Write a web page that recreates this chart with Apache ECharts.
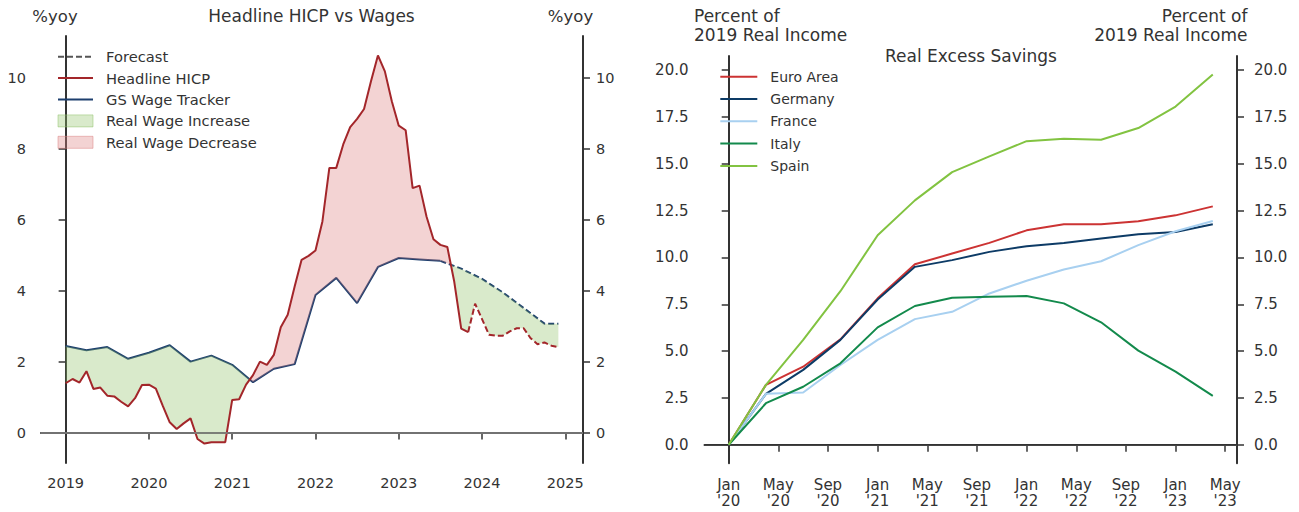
<!DOCTYPE html>
<html>
<head>
<meta charset="utf-8">
<script src="https://cdn.jsdelivr.net/npm/echarts@6/dist/echarts.min.js"></script>
<style>
html, body { margin: 0; padding: 0; background: #fff; }
#main { width: 1299px; height: 512px; }
</style>
</head>
<body>
<div id="main"></div>
<script>
// ---- left panel: headline HICP (monthly from Jan 2019) vs GS wage tracker ----
var startYear = 2019;
var hicp = [
  1.39, 1.51, 1.41, 1.73, 1.23, 1.27, 1.04, 1.02, 0.87, 0.74, 0.97, 1.34,
  1.35, 1.24, 0.75, 0.29, 0.10, 0.26, 0.40, -0.18, -0.31, -0.27, -0.27, -0.27,
  0.92, 0.94, 1.35, 1.62, 2.00, 1.91, 2.19, 2.97, 3.32, 4.12, 4.87, 4.98,
  5.13, 5.95, 7.46, 7.46, 8.12, 8.61, 8.84, 9.12, 9.90, 10.63, 10.18, 9.34,
  8.65, 8.52, 6.89, 6.96, 6.09, 5.45, 5.29, 5.23, 4.25, 2.93, 2.83, 3.63,
  3.20, 2.76, 2.73, 2.73, 2.85, 2.94, 2.94, 2.66, 2.49, 2.54, 2.45, 2.41
];
var hicpLastActual = 58; // Nov 2023, dashed after this

var wageMonths = [0, 3, 6, 9, 12, 15, 18, 21, 24, 27, 30, 33, 36, 39, 42, 45, 48, 51, 54];
var wageValues = [2.44, 2.32, 2.41, 2.08, 2.25, 2.46, 2.00, 2.17, 1.91, 1.42, 1.80, 1.93,
  3.88, 4.36, 3.65, 4.67, 4.92, 4.88, 4.84];
var wageFcMonths = [54, 57, 60, 63, 66, 69, 71];
var wageFcValues = [4.84, 4.62, 4.33, 3.95, 3.51, 3.07, 3.07];

var leftYears = [2019, 2020, 2021, 2022, 2023, 2024, 2025];
var leftYTicks = [0, 2, 4, 6, 8, 10];

// ---- right panel: real excess savings, quarterly, months since Jan 2020 ----
var savingsMonths = [0, 3, 6, 9, 12, 15, 18, 21, 24, 27, 30, 33, 36, 39];
var euroArea = [0, 3.20, 4.17, 5.63, 7.82, 9.64, 10.21, 10.78, 11.45, 11.77, 11.77, 11.93, 12.25, 12.73];
var germany = [0, 2.72, 4.00, 5.60, 7.76, 9.50, 9.86, 10.30, 10.60, 10.78, 11.01, 11.24, 11.36, 11.77];
var france = [0, 2.72, 2.79, 4.26, 5.60, 6.71, 7.10, 8.08, 8.76, 9.36, 9.80, 10.66, 11.40, 11.95];
var italy = [0, 2.22, 3.10, 4.35, 6.27, 7.41, 7.85, 7.90, 7.94, 7.55, 6.54, 5.03, 3.91, 2.61];
var spain = [0, 3.20, 5.60, 8.20, 11.19, 13.05, 14.56, 15.40, 16.21, 16.34, 16.29, 16.91, 18.06, 19.77];

var rightXTicks = [0, 4, 8, 12, 16, 20, 24, 28, 32, 36, 40];
var rightXLabels = ["Jan\n'20", "May\n'20", "Sep\n'20", "Jan\n'21", "May\n'21", "Sep\n'21",
  "Jan\n'22", "May\n'22", "Sep\n'22", "Jan\n'23", "May\n'23"];
var rightYTicks = [0, 2.5, 5, 7.5, 10, 12.5, 15, 17.5, 20];

var FONT = 'DejaVu Sans';
var TXT = '#333';
var GREEN_FILL = 'rgba(146,195,106,0.35)';
var RED_FILL = 'rgba(221,129,129,0.35)';
var HICP_COL = '#a3262a';
var WAGE_COL = '#1d3f6e';

function pairs(xs, ys) { return xs.map(function (x, i) { return [x, ys[i]]; }); }
function pad(lo, hi) { var p = (hi - lo) * 0.05; return [lo - p, hi + p]; }
function lerp(xs, ys, x) {
  for (var i = 1; i < xs.length; i++) {
    if (x <= xs[i]) {
      var t = (x - xs[i - 1]) / (xs[i] - xs[i - 1]);
      return ys[i - 1] + t * (ys[i] - ys[i - 1]);
    }
  }
  return ys[ys.length - 1];
}

var hicpMonths = hicp.map(function (v, i) { return i; });
var wageAllX = wageMonths.concat(wageFcMonths.slice(1));
var wageAllY = wageValues.concat(wageFcValues.slice(1));

// split the band between the two lines where they cross
var runs = [], cur = null, prev = null;
hicpMonths.forEach(function (m) {
  var p = { x: m, h: hicp[m], w: lerp(wageAllX, wageAllY, m) };
  if (prev) {
    var d0 = prev.h - prev.w, d1 = p.h - p.w;
    if (d0 * d1 < 0) {
      var t = d0 / (d0 - d1);
      var yc = prev.h + t * (p.h - prev.h);
      var c = { x: prev.x + t * (p.x - prev.x), h: yc, w: yc };
      cur.pts.push(c);
      runs.push(cur);
      cur = { up: d1 > 0, pts: [c] };
    }
  } else {
    cur = { up: p.h > p.w, pts: [] };
  }
  cur.pts.push(p);
  prev = p;
});
runs.push(cur);

function fillSeries(name, up, color) {
  var mine = runs.filter(function (r) { return r.up === up; });
  return {
    name: name, type: 'custom', xAxisIndex: 0, yAxisIndex: 0, z: 3, silent: true,
    itemStyle: { color: color },
    data: mine.map(function (r) { return [r.pts[0].x, r.pts[0].h]; }),
    renderItem: function (params, api) {
      var r = mine[params.dataIndex];
      var top = r.pts.map(function (p) { return api.coord([p.x, p.h]); });
      var bot = r.pts.slice().reverse().map(function (p) { return api.coord([p.x, p.w]); });
      return { type: 'polygon', shape: { points: top.concat(bot) }, style: { fill: color } };
    }
  };
}

var lx = pad(0, hicp.length - 1);
var ly = pad(Math.min.apply(null, hicp), Math.max.apply(null, hicp));
var rx = pad(0, savingsMonths[savingsMonths.length - 1]);
var allSav = euroArea.concat(germany, france, italy, spain);
var ry = pad(Math.min.apply(null, allSav), Math.max.apply(null, allSav));

var axisLine = { show: true, lineStyle: { color: '#333', width: 2 } };
function tick(vals) { return { show: true, customValues: vals, length: 7, lineStyle: { color: '#333', width: 1.5 } }; }

function yAxis(grid, pos, range, ticks, fmt, margin, size) {
  return {
    type: 'value', gridIndex: grid, position: pos, min: range[0], max: range[1],
    axisLine: axisLine, axisTick: tick(ticks), splitLine: { show: false },
    axisLabel: { customValues: ticks, formatter: fmt, margin: margin, fontSize: size, color: TXT, fontFamily: FONT }
  };
}

// legend entry for a plain line (hide the marker ECharts draws in the middle)
function lineItem(name) { return { name: name, itemStyle: { opacity: 0 } }; }

var option = {
  animation: false,
  textStyle: { fontFamily: FONT },
  grid: [
    { left: 41, top: 36, width: 542, height: 427 },
    { left: 704.5, top: 56, width: 532.5, height: 407.3 }
  ],
  xAxis: [
    {
      type: 'value', gridIndex: 0, min: lx[0], max: lx[1],
      axisLine: axisLine, axisTick: tick(leftYears.map(function (y) { return (y - startYear) * 12; })),
      splitLine: { show: false },
      axisLabel: {
        customValues: leftYears.map(function (y) { return (y - startYear) * 12; }),
        formatter: function (v) { return String(startYear + Math.round(v / 12)); },
        margin: 12, fontSize: 14.5, color: TXT, fontFamily: FONT
      }
    },
    {
      type: 'value', gridIndex: 1, min: rx[0], max: rx[1],
      axisLine: axisLine, axisTick: tick(rightXTicks), splitLine: { show: false },
      axisLabel: {
        customValues: rightXTicks,
        formatter: function (v) { return rightXLabels[rightXTicks.indexOf(Math.round(v))]; },
        margin: 13, fontSize: 15, lineHeight: 16.5, color: TXT, fontFamily: FONT
      }
    }
  ],
  yAxis: [
    yAxis(0, 'left', ly, leftYTicks, function (v) { return String(v); }, 15, 14.5),
    yAxis(0, 'right', ly, leftYTicks, function (v) { return String(v); }, 13, 14.5),
    yAxis(1, 'left', ry, rightYTicks, function (v) { return v.toFixed(1); }, 16, 15),
    yAxis(1, 'right', ry, rightYTicks, function (v) { return v.toFixed(1); }, 17, 15)
  ],
  legend: [
    {
      orient: 'vertical', left: 57, top: 48.7, padding: 0, itemGap: 5.4,
      itemWidth: 35, itemHeight: 12,
      textStyle: { fontSize: 14.7, color: TXT, lineHeight: 16, padding: [0, 0, 0, 8], fontFamily: FONT },
      data: [
        lineItem('Forecast'),
        lineItem('Headline HICP'),
        lineItem('GS Wage Tracker'),
        { name: 'Real Wage Increase', icon: 'rect', itemStyle: { color: GREEN_FILL, borderColor: 'rgba(146,195,106,0.5)', borderWidth: 1 } },
        { name: 'Real Wage Decrease', icon: 'rect', itemStyle: { color: RED_FILL, borderColor: 'rgba(221,129,129,0.5)', borderWidth: 1 } }
      ]
    },
    {
      orient: 'vertical', left: 719.3, top: 68.7, padding: 0, itemGap: 6.3,
      itemWidth: 37, itemHeight: 12,
      textStyle: { fontSize: 14, color: TXT, lineHeight: 16, padding: [0, 0, 0, 8], fontFamily: FONT },
      data: ['Euro Area', 'Germany', 'France', 'Italy', 'Spain'].map(lineItem)
    }
  ],
  graphic: [
    { type: 'text', x: 55, y: 16, style: { text: '%yoy', font: '16.5px "DejaVu Sans"', fill: TXT, textAlign: 'center', textVerticalAlign: 'middle' } },
    { type: 'text', x: 570.5, y: 16, style: { text: '%yoy', font: '16.5px "DejaVu Sans"', fill: TXT, textAlign: 'center', textVerticalAlign: 'middle' } },
    { type: 'text', x: 311.5, y: 16, style: { text: 'Headline HICP vs Wages', font: '17px "DejaVu Sans"', fill: TXT, textAlign: 'center', textVerticalAlign: 'middle' } },
    { type: 'text', x: 694, y: 25.5, style: { text: 'Percent of\n2019 Real Income', font: '17px "DejaVu Sans"', lineHeight: 19.3, fill: TXT, textAlign: 'left', textVerticalAlign: 'middle' } },
    { type: 'text', x: 1247.5, y: 25.5, style: { text: 'Percent of\n2019 Real Income', font: '17px "DejaVu Sans"', lineHeight: 19.3, fill: TXT, textAlign: 'right', textVerticalAlign: 'middle' } },
    { type: 'text', x: 971, y: 56, style: { text: 'Real Excess Savings', font: '17px "DejaVu Sans"', fill: TXT, textAlign: 'center', textVerticalAlign: 'middle' } }
  ],
  series: [
    {
      name: 'Forecast', type: 'line', xAxisIndex: 0, yAxisIndex: 0, data: [], symbol: 'none',
      itemStyle: { color: '#555' }, lineStyle: { color: '#555', width: 1.5, type: [6, 3] }
    },
    {
      name: 'GS Wage Tracker', type: 'line', xAxisIndex: 0, yAxisIndex: 0, z: 2, symbol: 'none',
      data: pairs(wageMonths, wageValues),
      itemStyle: { color: WAGE_COL }, lineStyle: { color: WAGE_COL, width: 2 },
      markLine: {
        silent: true, symbol: ['none', 'none'], label: { show: false },
        lineStyle: { color: '#888', width: 1.5, type: 'solid' },
        data: [{ yAxis: 0 }]
      }
    },
    {
      name: 'Wage forecast', type: 'line', xAxisIndex: 0, yAxisIndex: 0, z: 2, symbol: 'none',
      data: pairs(wageFcMonths, wageFcValues),
      itemStyle: { color: WAGE_COL }, lineStyle: { color: WAGE_COL, width: 2, type: [6, 3] }
    },
    fillSeries('Real Wage Increase', false, GREEN_FILL),
    fillSeries('Real Wage Decrease', true, RED_FILL),
    {
      name: 'Headline HICP', type: 'line', xAxisIndex: 0, yAxisIndex: 0, z: 4, symbol: 'none',
      data: pairs(hicpMonths, hicp).slice(0, hicpLastActual + 1),
      itemStyle: { color: HICP_COL }, lineStyle: { color: HICP_COL, width: 2 }
    },
    {
      name: 'HICP forecast', type: 'line', xAxisIndex: 0, yAxisIndex: 0, z: 4, symbol: 'none',
      data: pairs(hicpMonths, hicp).slice(hicpLastActual),
      itemStyle: { color: HICP_COL }, lineStyle: { color: HICP_COL, width: 2, type: [6, 3] }
    },
    {
      name: 'Euro Area', type: 'line', xAxisIndex: 1, yAxisIndex: 2, symbol: 'none',
      data: pairs(savingsMonths, euroArea),
      itemStyle: { color: '#cc3333' }, lineStyle: { color: '#cc3333', width: 2 },
      markLine: {
        silent: true, symbol: ['none', 'none'], label: { show: false },
        lineStyle: { color: '#444', width: 1.2, type: 'solid' },
        data: [{ yAxis: 0 }]
      }
    },
    {
      name: 'Germany', type: 'line', xAxisIndex: 1, yAxisIndex: 2, symbol: 'none',
      data: pairs(savingsMonths, germany),
      itemStyle: { color: '#0d3b66' }, lineStyle: { color: '#0d3b66', width: 2 }
    },
    {
      name: 'France', type: 'line', xAxisIndex: 1, yAxisIndex: 2, symbol: 'none',
      data: pairs(savingsMonths, france),
      itemStyle: { color: '#a8d0f0' }, lineStyle: { color: '#a8d0f0', width: 2 }
    },
    {
      name: 'Italy', type: 'line', xAxisIndex: 1, yAxisIndex: 2, symbol: 'none',
      data: pairs(savingsMonths, italy),
      itemStyle: { color: '#138a4c' }, lineStyle: { color: '#138a4c', width: 2 }
    },
    {
      name: 'Spain', type: 'line', xAxisIndex: 1, yAxisIndex: 2, symbol: 'none',
      data: pairs(savingsMonths, spain),
      itemStyle: { color: '#82c341' }, lineStyle: { color: '#82c341', width: 2 }
    }
  ]
};

var myChart = echarts.init(document.getElementById('main'), null, { renderer: 'svg' });
myChart.setOption(option);
</script>
</body>
</html>
